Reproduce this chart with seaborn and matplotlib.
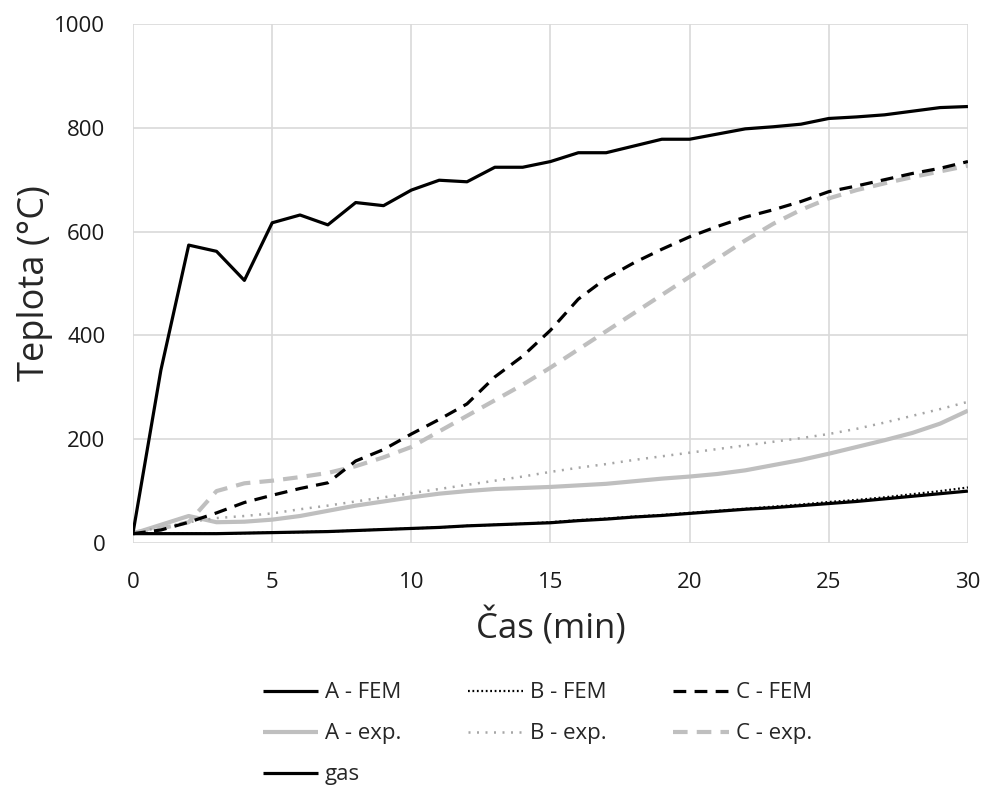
import numpy as np
import pandas as pd
import matplotlib
matplotlib.use("Agg")
import matplotlib.pyplot as plt
import seaborn as sns

t = list(range(0, 31))

gas = [20, 333, 574, 562, 506, 617, 632, 613, 656, 650, 680, 699, 696, 724, 724, 735,
       752, 752, 765, 778, 778, 788, 798, 802, 807, 818, 821, 825, 832, 839, 841]
a_fem = [18, 18, 18, 18, 19, 20, 21, 22, 24, 26, 28, 30, 33, 35, 37, 39,
         43, 46, 50, 53, 57, 61, 65, 68, 72, 76, 80, 85, 90, 95, 100]
b_fem = [18, 18, 18, 18, 19, 20, 21, 22, 24, 26, 28, 30, 33, 35, 37, 40,
         44, 47, 51, 54, 58, 62, 66, 70, 74, 79, 83, 88, 94, 100, 107]
c_fem = [18, 25, 40, 58, 78, 92, 105, 116, 158, 180, 210, 238, 268, 320, 360, 410,
         470, 510, 540, 566, 590, 610, 628, 642, 658, 677, 688, 700, 712, 722, 735]
a_exp = [18, 35, 52, 40, 41, 45, 52, 62, 72, 80, 88, 95, 100, 104, 106, 108,
         111, 114, 119, 124, 128, 133, 140, 150, 160, 172, 185, 198, 212, 230, 255]
b_exp = [20, 30, 40, 48, 52, 57, 65, 72, 80, 88, 96, 104, 112, 120, 128, 137,
         145, 152, 160, 167, 174, 181, 188, 195, 202, 210, 220, 232, 245, 258, 272]
c_exp = [20, 28, 40, 100, 115, 120, 127, 135, 148, 165, 185, 215, 245, 275, 305, 338,
         373, 408, 443, 478, 513, 548, 583, 615, 642, 664, 680, 693, 705, 716, 727]

series_names = ["A - FEM", "B - FEM", "C - FEM", "A - exp.", "B - exp.", "C - exp.", "gas"]
series_vals = [a_fem, b_fem, c_fem, a_exp, b_exp, c_exp, gas]

sns.set_theme(style="white")
plt.rcParams['font.family'] = ['Open Sans', 'DejaVu Sans']

fig = plt.figure(figsize=(9.87, 7.85), dpi=100)
ax = fig.add_axes([0.1348, 0.3083, 0.8459, 0.6611])

styles = {
    "gas":      dict(color="black", lw=2.3, dashes=None),
    "A - FEM":  dict(color="black", lw=2.3, dashes=None),
    "B - FEM":  dict(color="black", lw=1.6, dashes=(0.8, 1.2)),
    "C - FEM":  dict(color="black", lw=2.3, dashes=(4.0, 2.6)),
    "A - exp.": dict(color="#bfbfbf", lw=3.0, dashes=None),
    "B - exp.": dict(color="#a6a6a6", lw=1.8, dashes=(0.8, 2.6)),
    "C - exp.": dict(color="#bfbfbf", lw=3.0, dashes=(3.5, 2.2)),
}

draw_order = ["A - exp.", "B - exp.", "C - exp.", "A - FEM", "B - FEM", "C - FEM", "gas"]
handles = {}
for name in draw_order:
    vals = series_vals[series_names.index(name)]
    df = pd.DataFrame({"t": t, "T": vals})
    st = styles[name]
    sns.lineplot(data=df, x="t", y="T", ax=ax, color=st["color"], linewidth=st["lw"], label=name)
    line = ax.get_lines()[-1]
    line.set_solid_capstyle("butt")
    if st["dashes"] is not None:
        line.set_dashes(st["dashes"])
        line.set_dash_capstyle("butt")
    handles[name] = line

ax.set_xlim(0, 30)
ax.set_ylim(0, 1000)
ax.set_xticks([0, 5, 10, 15, 20, 25, 30])
ax.set_yticks([0, 200, 400, 600, 800, 1000])
ax.grid(True, color="#d9d9d9", linewidth=1.2)
for s in ax.spines.values():
    s.set_visible(False)
ax.tick_params(axis="both", labelsize=16, length=0)
ax.tick_params(axis="x", pad=21)
ax.tick_params(axis="y", pad=20)
for lbl in ax.get_xticklabels() + ax.get_yticklabels():
    lbl.set_color("#1a1a1a")
ax.set_xlabel("Čas (min)", fontsize=25, labelpad=10)
ax.set_ylabel("Teplota (°C)", fontsize=26, labelpad=1)

order = ["A - FEM", "A - exp.", "gas", "B - FEM", "B - exp.", "C - FEM", "C - exp."]
ax.get_legend().remove()
fig.legend([handles[n] for n in order], order, loc="upper left",
           bbox_to_anchor=(0.257, 0.142), ncol=3, frameon=False, fontsize=16,
           handlelength=2.5, handletextpad=0.3, columnspacing=3.0,
           labelspacing=0.9, borderaxespad=0)

fig.savefig("out.png", dpi=100, facecolor="white")
